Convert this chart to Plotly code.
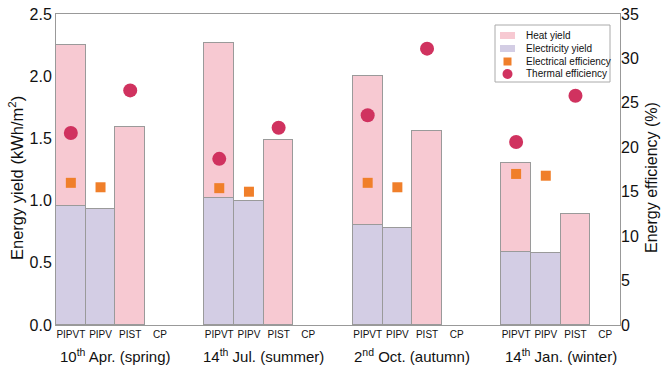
import plotly.graph_objects as go

categories = ["PIPVT", "PIPV", "PIST", "CP"]
groups = ["10<sup>th</sup> Apr. (spring)", "14<sup>th</sup> Jul. (summer)",
          "2<sup>nd</sup> Oct. (autumn)", "14<sup>th</sup> Jan. (winter)"]

# Energy yields (kWh/m2) per group: [PIPVT, PIPV, PIST, CP]
elec_yield = [
    [0.96, 0.93, 0, 0],
    [1.02, 1.00, 0, 0],
    [0.80, 0.78, 0, 0],
    [0.59, 0.58, 0, 0],
]
heat_yield = [
    [1.29, 0, 1.59, 0],
    [1.25, 0, 1.49, 0],
    [1.20, 0, 1.56, 0],
    [0.71, 0, 0.89, 0],
]
# Efficiencies (%) per group: [PIPVT, PIPV, PIST, CP]
elec_eff = [
    [16.0, 15.5, None, None],
    [15.4, 15.0, None, None],
    [16.0, 15.5, None, None],
    [17.0, 16.8, None, None],
]
therm_eff = [
    [21.6, None, 26.4, None],
    [18.7, None, 22.2, None],
    [23.6, None, 31.1, None],
    [20.6, None, 25.8, None],
]
legend_names = ["Heat yield", "Electricity yield", "Electrical efficiency", "Thermal efficiency"]
y_title = "Energy yield (kWh/m<sup>2</sup>)"
y2_title = "Energy efficiency (%)"

xs, ticktext, ey, hy, ee, te = [], [], [], [], [], []
for g in range(len(groups)):
    for c, cat in enumerate(categories):
        xs.append(g * 5 + c)
        ticktext.append(cat)
        ey.append(elec_yield[g][c] or None)
        hy.append(heat_yield[g][c] or None)
        ee.append(elec_eff[g][c])
        te.append(therm_eff[g][c])

pink = "#f7c9d2"
lav = "#d3cde4"
edge = "#9a9a9a"
orange = "#f07f2a"
crimson = "#d0325f"

W, H = 662, 366
L, R, T, B = 56, 42, 14, 41
PW, PH = W - L - R, H - T - B


def px(x):
    return (x - L) / PW


def py(y):
    return (H - B - y) / PH


fig = go.Figure()
fig.add_trace(go.Bar(x=xs, y=ey, name=legend_names[1], marker=dict(color=lav, line=dict(color=edge, width=1))))
fig.add_trace(go.Bar(x=xs, y=hy, name=legend_names[0], marker=dict(color=pink, line=dict(color=edge, width=1))))
fig.add_trace(go.Scatter(x=xs, y=ee, name=legend_names[2], mode="markers", yaxis="y2",
                         marker=dict(symbol="square", size=10, color=orange)))
fig.add_trace(go.Scatter(x=xs, y=te, name=legend_names[3], mode="markers", yaxis="y2",
                         marker=dict(symbol="circle", size=14, color=crimson)))

for g, lab in enumerate(groups):
    fig.add_annotation(x=g * 5 + 1.5, y=py(355), xref="x", yref="paper", text=lab, showarrow=False,
                       font=dict(size=15, color="#111"), yanchor="middle")

# axis titles
fig.add_annotation(x=px(16), y=py(178), xref="paper", yref="paper", text=y_title, showarrow=False,
                   textangle=-90, font=dict(size=16.5, color="#111"), xanchor="center", yanchor="middle")
fig.add_annotation(x=px(651), y=py(178), xref="paper", yref="paper", text=y2_title, showarrow=False,
                   textangle=-90, font=dict(size=16, color="#111"), xanchor="center", yanchor="middle")

# compact legend drawn in paper coordinates
shapes = [dict(type="rect", xref="paper", yref="paper", x0=px(495), x1=px(610), y0=py(82), y1=py(25),
               line=dict(color="#aaa", width=1), fillcolor="white", layer="above")]
rows = [35.5, 48.5, 61.5, 74]
shapes.append(dict(type="rect", xref="paper", yref="paper", x0=px(500), x1=px(515), y0=py(rows[0] + 3.5),
                   y1=py(rows[0] - 3.5), line=dict(width=0), fillcolor=pink, layer="above"))
shapes.append(dict(type="rect", xref="paper", yref="paper", x0=px(500), x1=px(515), y0=py(rows[1] + 3.5),
                   y1=py(rows[1] - 3.5), line=dict(width=0), fillcolor=lav, layer="above"))
shapes.append(dict(type="rect", xref="paper", yref="paper", x0=px(503.5), x1=px(511.5), y0=py(rows[2] + 4),
                   y1=py(rows[2] - 4), line=dict(width=0), fillcolor=orange, layer="above"))
shapes.append(dict(type="circle", xref="paper", yref="paper", x0=px(502.5), x1=px(512.5), y0=py(rows[3] + 5),
                   y1=py(rows[3] - 5), line=dict(width=0), fillcolor=crimson, layer="above"))
for name, r in zip(legend_names, rows):
    fig.add_annotation(x=px(524), y=py(r), xref="paper", yref="paper", text=name, showarrow=False,
                       xanchor="left", yanchor="middle", font=dict(size=10, color="#111"))

fig.update_layout(
    width=W, height=H,
    margin=dict(l=L, r=R, t=T, b=B, autoexpand=False),
    paper_bgcolor="white", plot_bgcolor="white",
    barmode="stack", bargap=0,
    font=dict(family="Liberation Sans, Arial, sans-serif", color="#111"),
    showlegend=False,
    shapes=shapes,
    xaxis=dict(range=[-0.5, 18.5], tickvals=xs, ticktext=ticktext, tickfont=dict(size=10),
               showline=True, linecolor="#999", mirror=True, showgrid=False, ticks="", ticklen=0,
               automargin=False),
    yaxis=dict(range=[0, 2.5], dtick=0.5, tickformat=".1f", tickfont=dict(size=16),
               showline=True, linecolor="#999", mirror=True, showgrid=False, zeroline=False,
               automargin=False),
    yaxis2=dict(range=[0, 35], dtick=5, overlaying="y", side="right", tickfont=dict(size=16),
                showgrid=False, zeroline=False, showline=False, automargin=False),
)

fig.write_html("out.html", post_script="document.body.style.margin='0px';",
               config={"displayModeBar": False})
